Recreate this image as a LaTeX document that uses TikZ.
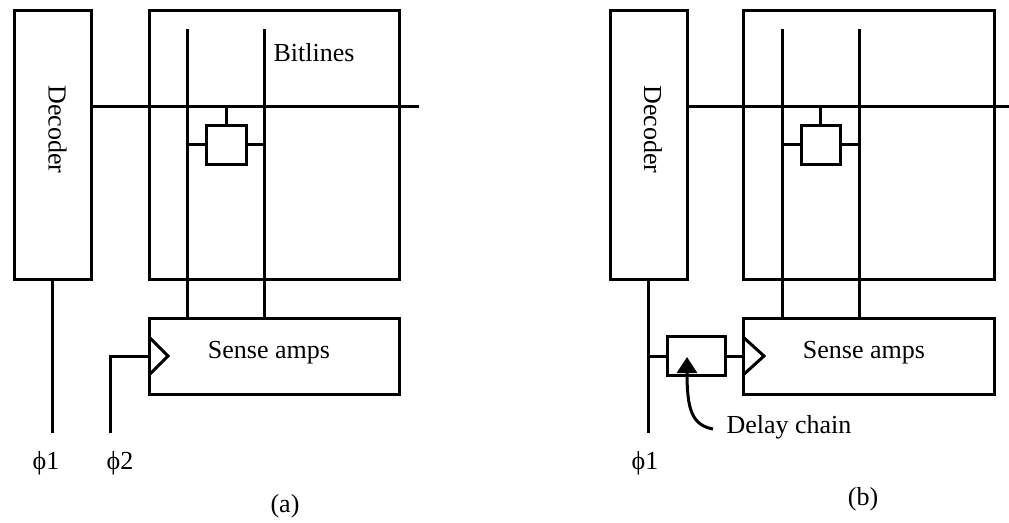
\documentclass[tikz,border=0pt]{standalone}
\usepackage{fontspec}
\setmainfont{Liberation Serif}
\usetikzlibrary{arrows.meta}
\begin{document}
\begin{tikzpicture}[x=1pt,y=-1pt,line width=3pt,
  blk/.style={draw,rectangle,inner sep=0pt,line width=3pt},
  lbl/.style={inner sep=0pt,font=\fontsize{26}{30}\selectfont},
  wire/.style={line width=3pt},
  thinwire/.style={line width=3pt}]
\useasboundingbox (0,0) rectangle (1009,522);
% ---------- (a) ----------
\node[blk,minimum width=77pt,minimum height=269pt] (decA) at (52.5,144.5) {};
\node[lbl,rotate=-90] (decAt) at (57.5,129.5) {Decoder};
\node[blk,minimum width=250pt,minimum height=269pt] (arrA) at (274,144.5) {};
\node[blk,minimum width=250pt,minimum height=76pt] (saA) at (274,356) {};
\node[blk,minimum width=40pt,minimum height=39pt] (cellA) at (226,144.5) {};
\node[lbl,anchor=base west] (bitA) at (272,61) {Bitlines};
\node[lbl,anchor=base] (saAt) at (269,358) {Sense amps};
\coordinate (blA1) at (187,29);
\coordinate (blA2) at (264,29);
\draw[wire] (blA1) -- (blA1 |- saA.north);
\draw[wire] (blA2) -- (blA2 |- saA.north);
\coordinate (wlA) at (419,106);
\draw[thinwire] (decA.east |- wlA) -- (wlA);
\draw[wire] (cellA.north |- wlA) -- (cellA.north);
\draw[wire] (blA1 |- cellA.west) -- (cellA.west);
\draw[wire] (cellA.east) -- (blA2 |- cellA.east);
\draw[wire,line join=miter] (149,337) -- (168,356) -- (149,375);
\coordinate (p2A) at (110,433);
\draw[wire] (p2A) |- (saA.west);
\coordinate (p1A) at (52.5,433);
\draw[thinwire] (decA.south) -- (p1A);
\node[lbl,anchor=base] (phi1A) at (46,469) {ϕ1};
\node[lbl,anchor=base] (phi2A) at (120,469) {ϕ2};
\node[lbl,anchor=base] (capA) at (285,512) {(a)};
% ---------- (b) ----------
\node[blk,minimum width=77pt,minimum height=269pt] (decB) at (648.5,144.5) {};
\node[lbl,rotate=-90] (decBt) at (653,129.5) {Decoder};
\node[blk,minimum width=251pt,minimum height=269pt] (arrB) at (868.5,144.5) {};
\node[blk,minimum width=251pt,minimum height=76pt] (saB) at (868.5,356) {};
\node[blk,minimum width=39pt,minimum height=39pt] (cellB) at (820.5,144.5) {};
\node[lbl,anchor=base] (saBt) at (864,358) {Sense amps};
\coordinate (blB1) at (782,29);
\coordinate (blB2) at (859,29);
\draw[wire] (blB1) -- (blB1 |- saB.north);
\draw[wire] (blB2) -- (blB2 |- saB.north);
\coordinate (wlB) at (1009,106);
\draw[thinwire] (decB.east |- wlB) -- (wlB);
\draw[wire] (cellB.north |- wlB) -- (cellB.north);
\draw[wire] (blB1 |- cellB.west) -- (cellB.west);
\draw[wire] (cellB.east) -- (blB2 |- cellB.east);
\draw[wire,line join=miter] (743,337) -- (764,356) -- (743,375);
\node[blk,minimum width=58pt,minimum height=39pt] (dly) at (696,356) {};
\coordinate (p1B) at (648.5,433);
\draw[wire] (decB.south) -- (p1B);
\draw[wire] (p1B |- dly.west) -- (dly.west);
\draw[wire] (dly.east) -- (saB.west |- dly.east);
\coordinate (dcs) at (713,429);
\coordinate (dct) at (687,357);
\draw[wire,-{Triangle[length=16pt,width=20pt]}] (dcs) .. controls (692,425) and (687,410) .. (dct);
\node[lbl,anchor=base west] (dclbl) at (725,433) {Delay chain};
\node[lbl,anchor=base] (phi1B) at (645,469) {ϕ1};
\node[lbl,anchor=base] (capB) at (863,505) {(b)};
\end{tikzpicture}
\end{document}
